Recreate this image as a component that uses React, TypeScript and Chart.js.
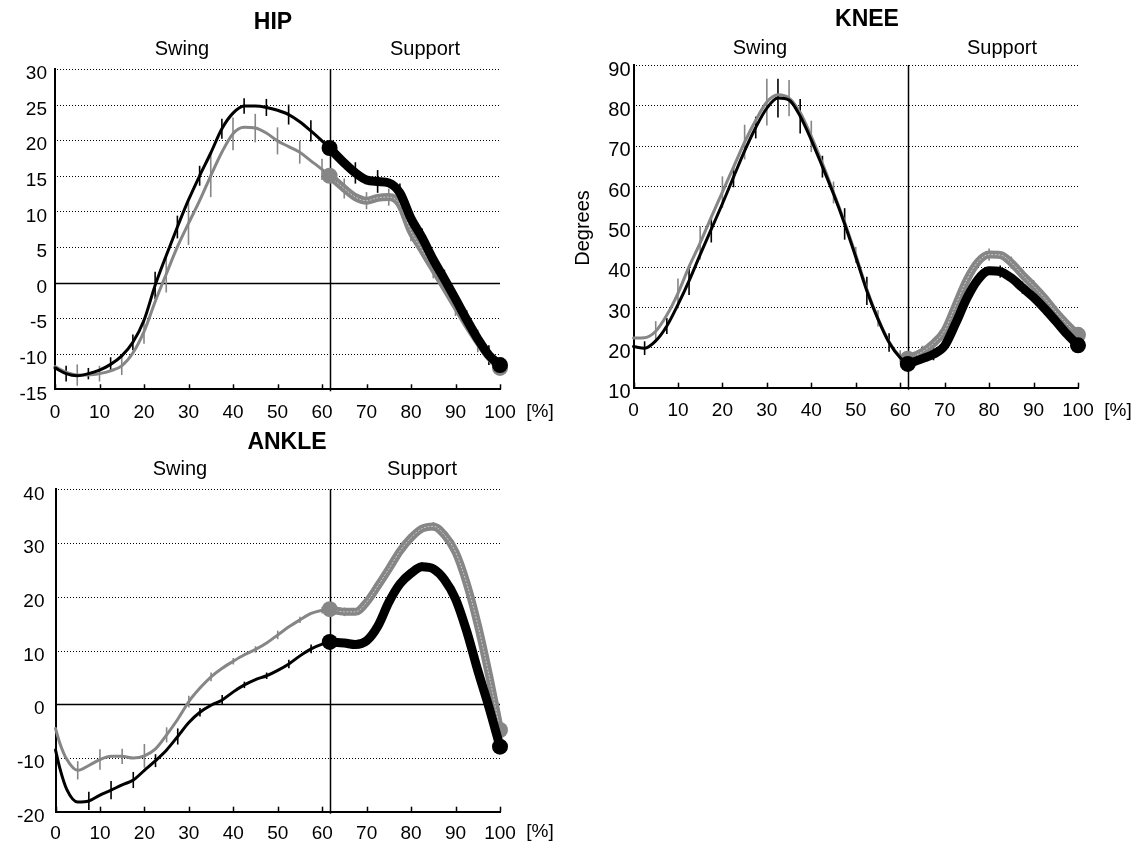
import React, { useEffect, useRef } from "react";
import { Chart, registerables } from "chart.js";

Chart.register(...registerables);

const FONT = "'Liberation Sans', Arial, Helvetica, sans-serif";
const GRAY = "#868686";
const BLACK = "#000000";

const toeOff = 61.7;
const phaseLabels = ["Swing", "Support"];
const unitLabel = "[%]";
const yAxisTitle = "Degrees";

// ---------- HIP ----------
const hipPct = [0, 2.5, 5, 7.5, 10, 12.5, 15, 17.5, 20, 22.5, 25, 27.5, 30, 32.5, 35, 37.5, 40, 42.5, 45, 47.5, 50, 52.5, 55, 57.5, 60, 61.7, 65, 67.5, 70, 72.5, 75, 77.5, 80, 82.5, 85, 87.5, 90, 92.5, 95, 97.5, 100];
const hipBlack = [-12.0, -12.8, -13.1, -12.8, -12.3, -11.5, -10.3, -8.4, -5.3, -0.4, 3.8, 7.8, 11.6, 15.0, 18.2, 21.6, 23.8, 24.8, 24.8, 24.6, 24.2, 23.6, 22.6, 21.3, 19.9, 18.9, 16.8, 15.4, 14.4, 14.2, 14.0, 12.6, 9.0, 6.3, 3.2, 0.5, -2.3, -5.2, -7.9, -10.2, -11.6];
const hipGray = [-11.8, -12.6, -13.0, -13.0, -12.8, -12.4, -11.7, -9.9, -6.9, -2.7, 1.2, 5.0, 8.3, 11.5, 15.0, 18.3, 20.9, 21.8, 21.7, 21.0, 19.9, 19.1, 18.3, 17.1, 15.9, 15.0, 13.2, 12.0, 11.5, 11.9, 12.0, 11.0, 7.2, 4.6, 2.0, -0.6, -3.2, -5.8, -8.2, -10.4, -12.0];
const hipBlackBarPct = [2.5, 7.5, 12.5, 17.5, 22.5, 27.5, 32.5, 37.5, 42.5, 47.5, 52.5, 57.5, 67.5, 72.5, 77.5, 82.5, 87.5, 92.5, 97.5];
const hipBlackBarSd = [1.1, 0.8, 1.0, 1.1, 1.9, 1.6, 1.4, 1.4, 1.1, 1.2, 1.4, 1.5, 1.5, 1.6, 1.3, 1.3, 1.3, 1.3, 1.4];
const hipGrayBarPct = [5, 10, 15, 20, 25, 30, 35, 40, 45, 50, 55, 60, 65, 70, 75, 80, 85, 90, 95];
const hipGrayBarSd = [1.5, 1.1, 1.3, 1.7, 2.6, 3.0, 3.0, 2.3, 2.0, 1.9, 1.6, 1.5, 1.4, 1.2, 1.2, 1.4, 1.4, 1.5, 1.6];

// ---------- KNEE ----------
const kneePct = [0, 2.5, 5, 7.5, 10, 12.5, 15, 17.5, 20, 22.5, 25, 27.5, 30, 32.5, 35, 37.5, 40, 42.5, 45, 47.5, 50, 52.5, 55, 57.5, 60, 61.7, 65, 67.5, 70, 72.5, 75, 77.5, 80, 82.5, 85, 87.5, 90, 92.5, 95, 97.5, 100];
const kneeBlack = [20.2, 19.8, 21.6, 25.3, 30.6, 36.5, 43.0, 49.3, 55.6, 62.2, 68.7, 74.5, 79.3, 81.8, 81.3, 77.3, 71.4, 64.8, 58.0, 50.6, 42.4, 34.0, 27.0, 21.2, 17.4, 15.9, 17.2, 18.3, 20.4, 26.0, 32.2, 36.8, 39.0, 38.8, 37.2, 34.8, 32.4, 29.6, 26.5, 23.3, 20.5];
const kneeGray = [22.3, 22.4, 24.0, 28.0, 33.4, 40.0, 45.9, 52.3, 58.5, 64.7, 70.9, 76.3, 80.8, 82.6, 81.8, 78.2, 72.3, 65.6, 58.4, 51.0, 42.9, 34.4, 27.2, 21.4, 17.8, 17.2, 18.9, 21.0, 24.2, 30.5, 36.8, 41.2, 43.0, 42.9, 41.0, 38.0, 35.2, 32.2, 28.8, 25.8, 23.1];
const kneeBlackBarPct = [2.5, 7.5, 12.5, 17.5, 22.5, 27.5, 32.5, 37.5, 42.5, 47.5, 52.5, 57.5, 67.5, 72.5, 77.5, 82.5, 87.5, 92.5, 97.5];
const kneeBlackBarSd = [1.7, 2.0, 3.5, 3.3, 2.5, 2.7, 4.8, 4.3, 2.7, 3.9, 3.5, 2.3, 1.5, 1.5, 1.5, 1.5, 1.5, 1.5, 1.5];
const kneeGrayBarPct = [5, 10, 15, 20, 25, 30, 35, 40, 45, 50, 55, 60, 65, 70, 75, 80, 85, 90, 95];
const kneeGrayBarSd = [2.5, 3.7, 4.1, 3.9, 4.3, 5.8, 4.5, 3.9, 2.7, 2.0, 2.0, 1.5, 1.5, 1.5, 1.5, 1.5, 1.5, 1.5, 1.5];

// ---------- ANKLE ----------
const anklePct = [0, 1, 2.5, 5, 7.5, 10, 12.5, 15, 17.5, 20, 22.5, 25, 27.5, 30, 32.5, 35, 37.5, 40, 42.5, 45, 47.5, 50, 52.5, 55, 57.5, 60, 61.7, 65, 67.5, 70, 72.5, 75, 77.5, 80, 82.5, 85, 87.5, 90, 92.5, 95, 97.5, 100];
const ankleBlack = [-8.5, -12.0, -15.8, -18.2, -18.0, -16.9, -16.0, -15.0, -14.1, -12.3, -10.5, -8.5, -6.0, -3.4, -1.5, -0.2, 0.8, 2.3, 3.6, 4.6, 5.3, 6.3, 7.5, 9.0, 10.3, 11.2, 11.6, 11.4, 11.1, 11.8, 14.5, 19.0, 22.4, 24.4, 25.6, 25.2, 23.2, 19.6, 13.6, 6.3, -0.5, -7.9];
const ankleGray = [-4.5, -7.3, -10.2, -12.3, -11.4, -10.3, -9.7, -9.7, -10.0, -9.6, -8.3, -5.7, -2.8, 0.5, 3.0, 5.1, 6.7, 8.0, 9.2, 10.2, 11.4, 12.9, 14.4, 15.7, 16.9, 17.5, 17.7, 17.2, 17.2, 19.0, 22.0, 25.2, 28.5, 31.0, 32.7, 33.1, 31.5, 28.3, 22.5, 14.8, 5.5, -4.8];
const ankleBlackBarPct = [7.5, 12.5, 17.5, 22.5, 27.5, 32.5, 37.5, 42.5, 47.5, 52.5, 57.5, 67.5, 72.5, 77.5, 82.5, 87.5, 92.5, 97.5];
const ankleBlackBarSd = [1.7, 1.7, 1.5, 1.2, 1.5, 0.8, 0.9, 0.6, 0.6, 0.8, 0.8, 0.8, 0.8, 0.8, 0.8, 0.8, 0.8, 0.8];
const ankleGrayBarPct = [5, 10, 15, 20, 25, 30, 35, 40, 45, 50, 55, 60, 65, 70, 75, 80, 85, 90, 95];
const ankleGrayBarSd = [1.7, 1.9, 1.4, 2.2, 1.4, 1.1, 0.8, 0.6, 0.6, 0.8, 0.6, 0.6, 0.8, 0.8, 0.8, 0.8, 0.8, 0.8, 0.8];

// ---------- panel specs (data references + layout) ----------
type Spec = {
  title: string;
  pct: number[];
  black: number[];
  gray: number[];
  blackBarPct: number[];
  blackBarSd: number[];
  grayBarPct: number[];
  grayBarSd: number[];
  yMin: number;
  yMax: number;
  yStep: number;
  box: { x: number; y: number; w: number; h: number };
  area: { left: number; right: number; top: number; bottom: number };
  yPad: number;
  xPad: number;
  yFont: number;
  titlePos: [number, number];
  swingPos: [number, number];
  supportPos: [number, number];
  unitPos: [number, number];
  degreesPos?: [number, number];
};

const specs: Spec[] = [
  {
    title: "HIP", pct: hipPct, black: hipBlack, gray: hipGray,
    blackBarPct: hipBlackBarPct, blackBarSd: hipBlackBarSd, grayBarPct: hipGrayBarPct, grayBarSd: hipGrayBarSd,
    yMin: -15, yMax: 30, yStep: 5,
    box: { x: 0, y: 0, w: 568, h: 421 },
    area: { left: 55, right: 500, top: 69, bottom: 389.3 },
    yPad: 8, xPad: 12, yFont: 19,
    titlePos: [273, 23], swingPos: [182, 49], supportPos: [425, 49], unitPos: [540, 412],
  },
  {
    title: "KNEE", pct: kneePct, black: kneeBlack, gray: kneeGray,
    blackBarPct: kneeBlackBarPct, blackBarSd: kneeBlackBarSd, grayBarPct: kneeGrayBarPct, grayBarSd: kneeGrayBarSd,
    yMin: 10, yMax: 90, yStep: 10,
    box: { x: 568, y: 0, w: 568, h: 421 },
    area: { left: 65.5, right: 510, top: 65, bottom: 387.7 },
    yPad: 3, xPad: 12, yFont: 20,
    titlePos: [299, 20], swingPos: [192, 48], supportPos: [434, 48], unitPos: [550, 410.5],
    degreesPos: [15, 228],
  },
  {
    title: "ANKLE", pct: anklePct, black: ankleBlack, gray: ankleGray,
    blackBarPct: ankleBlackBarPct, blackBarSd: ankleBlackBarSd, grayBarPct: ankleGrayBarPct, grayBarSd: ankleGrayBarSd,
    yMin: -20, yMax: 40, yStep: 10,
    box: { x: 0, y: 421, w: 568, h: 422 },
    area: { left: 55.5, right: 500, top: 68.3, bottom: 390.7 },
    yPad: 11, xPad: 11, yFont: 19,
    titlePos: [287, 22], swingPos: [180, 48], supportPos: [422, 48], unitPos: [540, 411],
  },
];

function segment(pct: number[], vals: number[], from: number, to: number) {
  return pct.map((x, i) => ({ x, y: vals[i] })).filter((p) => p.x >= from && p.x <= to);
}

function endDots(pct: number[], vals: number[]) {
  const i = pct.indexOf(toeOff);
  return [{ x: toeOff, y: vals[i] }, { x: pct[pct.length - 1], y: vals[vals.length - 1] }];
}

function makeChart(canvas: HTMLCanvasElement, s: Spec) {
  const lineBase = {
    pointRadius: 0,
    pointHoverRadius: 0,
    cubicInterpolationMode: "monotone" as const,
    fill: false,
    clip: false as any,
    borderCapStyle: "round" as const,
    borderJoinStyle: "round" as const,
  };
  const datasets: any[] = [
    { ...lineBase, data: endDots(s.pct, s.black), showLine: false, pointRadius: 8, pointBackgroundColor: BLACK, pointBorderWidth: 0, order: 0 },
    { ...lineBase, data: segment(s.pct, s.black, toeOff, 100), borderColor: BLACK, borderWidth: 9, order: 1 },
    { ...lineBase, data: segment(s.pct, s.black, 0, toeOff), borderColor: BLACK, borderWidth: 3, order: 2 },
    { ...lineBase, data: endDots(s.pct, s.gray), showLine: false, pointRadius: 8, pointBackgroundColor: GRAY, pointBorderWidth: 0, order: 3 },
    { ...lineBase, data: segment(s.pct, s.gray, toeOff, 100), borderColor: "rgba(255,255,255,0.6)", borderWidth: 1, borderDash: [1, 2.5], order: 4 },
    { ...lineBase, data: segment(s.pct, s.gray, toeOff, 100), borderColor: GRAY, borderWidth: 8, order: 5 },
    { ...lineBase, data: segment(s.pct, s.gray, 0, toeOff), borderColor: GRAY, borderWidth: 3, order: 6 },
  ];

  const drawBars = (ctx: CanvasRenderingContext2D, xs: any, ys: any, vals: number[], barPct: number[], barSd: number[], color: string) => {
    ctx.strokeStyle = color;
    ctx.lineWidth = 1.6;
    ctx.setLineDash([]);
    barPct.forEach((p, k) => {
      const i = s.pct.indexOf(p);
      if (i < 0) return;
      const m = vals[i];
      const px = xs.getPixelForValue(p);
      ctx.beginPath();
      ctx.moveTo(px, ys.getPixelForValue(m - barSd[k]));
      ctx.lineTo(px, ys.getPixelForValue(m + barSd[k]));
      ctx.stroke();
    });
  };

  const decor = {
    id: "decor",
    beforeDatasetsDraw(chart: any) {
      const { ctx, chartArea: a, scales } = chart;
      const xs = scales.x;
      const ys = scales.y;
      ctx.save();
      // dotted grid
      ctx.strokeStyle = BLACK;
      ctx.lineWidth = 1;
      ys.ticks.forEach((t: any) => {
        if (t.value === s.yMin || t.value === 0) return;
        const py = Math.round(ys.getPixelForValue(t.value)) + 0.5;
        ctx.setLineDash([1, 2]);
        ctx.beginPath();
        ctx.moveTo(Math.round(a.left) + 2, py);
        ctx.lineTo(a.right, py);
        ctx.stroke();
      });
      ctx.setLineDash([]);
      // zero line
      if (s.yMin < 0) {
        const py = Math.round(ys.getPixelForValue(0)) + 0.5;
        ctx.lineWidth = 1.5;
        ctx.beginPath();
        ctx.moveTo(a.left, py);
        ctx.lineTo(a.right, py);
        ctx.stroke();
      }
      // toe-off line
      const vx = Math.round(xs.getPixelForValue(toeOff)) + 0.5;
      ctx.lineWidth = 1.5;
      ctx.beginPath();
      ctx.moveTo(vx, a.top);
      ctx.lineTo(vx, a.bottom + 2);
      ctx.stroke();
      // inward x ticks
      ctx.lineWidth = 1.5;
      xs.ticks.forEach((t: any) => {
        const px = Math.round(xs.getPixelForValue(t.value)) + 0.5;
        ctx.beginPath();
        ctx.moveTo(px, a.bottom);
        ctx.lineTo(px, a.bottom - 5);
        ctx.stroke();
      });
      // error bars
      drawBars(ctx, xs, ys, s.gray, s.grayBarPct, s.grayBarSd, GRAY);
      drawBars(ctx, xs, ys, s.black, s.blackBarPct, s.blackBarSd, BLACK);
      ctx.restore();
    },
    afterDraw(chart: any) {
      const ctx = chart.ctx as CanvasRenderingContext2D;
      ctx.save();
      ctx.fillStyle = BLACK;
      ctx.textAlign = "center";
      ctx.textBaseline = "middle";
      ctx.font = `bold 23px ${FONT}`;
      ctx.fillText(s.title, s.titlePos[0], s.titlePos[1]);
      ctx.font = `20px ${FONT}`;
      ctx.fillText(phaseLabels[0], s.swingPos[0], s.swingPos[1]);
      ctx.fillText(phaseLabels[1], s.supportPos[0], s.supportPos[1]);
      ctx.font = `19px ${FONT}`;
      ctx.fillText(unitLabel, s.unitPos[0], s.unitPos[1]);
      if (s.degreesPos) {
        ctx.font = `20px ${FONT}`;
        ctx.translate(s.degreesPos[0], s.degreesPos[1]);
        ctx.rotate(-Math.PI / 2);
        ctx.fillText(yAxisTitle, 0, 0);
      }
      ctx.restore();
    },
  };

  const yW = s.area.left;
  const xH = s.box.h - s.area.bottom;

  return new Chart(canvas, {
    type: "line",
    data: { datasets },
    plugins: [decor],
    options: {
      responsive: false,
      animation: false,
      devicePixelRatio: 1,
      events: [],
      layout: { padding: { left: 0, top: s.area.top, right: s.box.w - s.area.right, bottom: 0 } },
      plugins: { legend: { display: false }, tooltip: { enabled: false }, title: { display: false } },
      scales: {
        x: {
          type: "linear",
          min: 0,
          max: 100,
          grid: { display: false, drawTicks: false },
          border: { display: true, color: BLACK, width: 2 },
          ticks: { stepSize: 10, color: BLACK, font: { family: FONT, size: 19 }, padding: s.xPad, maxRotation: 0, autoSkip: false },
          afterFit: (sc: any) => { sc.height = xH; },
        },
        y: {
          type: "linear",
          min: s.yMin,
          max: s.yMax,
          grid: { display: false, drawTicks: false },
          border: { display: true, color: BLACK, width: 2 },
          ticks: { stepSize: s.yStep, color: BLACK, font: { family: FONT, size: s.yFont }, padding: s.yPad, autoSkip: false, labelOffset: 5 },
          afterFit: (sc: any) => { sc.width = yW; },
        },
      },
    } as any,
  });
}

function Panel({ spec }: { spec: Spec }) {
  const ref = useRef<HTMLCanvasElement>(null);
  useEffect(() => {
    if (!ref.current) return;
    const chart = makeChart(ref.current, spec);
    return () => chart.destroy();
  }, [spec]);
  return (
    <canvas
      ref={ref}
      width={spec.box.w}
      height={spec.box.h}
      style={{ position: "absolute", left: spec.box.x, top: spec.box.y, width: spec.box.w, height: spec.box.h }}
    />
  );
}

export default function App() {
  return (
    <div style={{ position: "absolute", left: 0, top: 0, width: 1136, height: 843, background: "#ffffff", overflow: "hidden" }}>
      {specs.map((s) => (
        <Panel key={s.title} spec={s} />
      ))}
    </div>
  );
}
